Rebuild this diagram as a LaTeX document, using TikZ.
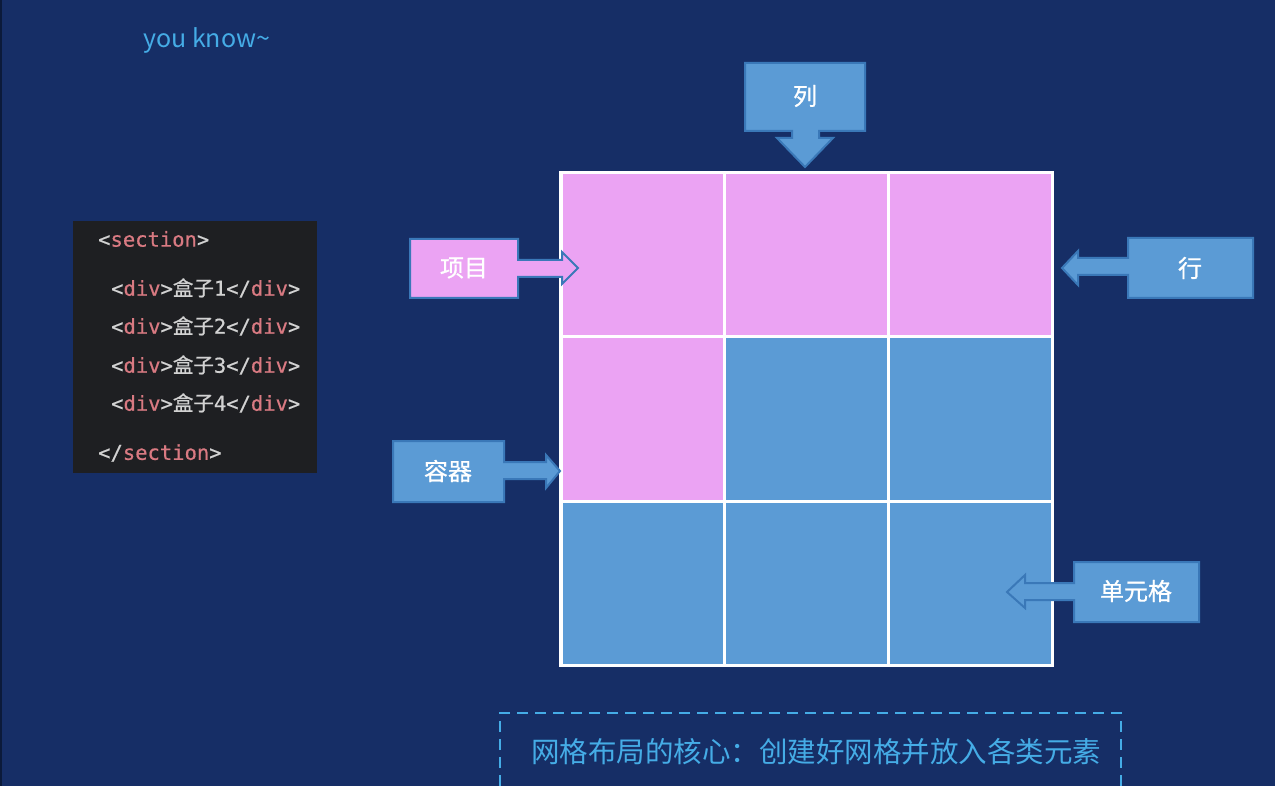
\documentclass[tikz,border=0pt]{standalone}
\usepackage{fontspec}
\newfontfamily\cjk{Noto Sans CJK SC}
\newfontfamily\cjkm[FakeBold=0.8]{Noto Sans CJK SC}
\newfontfamily\codefont[FakeBold=0.6]{DejaVu Sans Mono}
\definecolor{bg}{HTML}{162E66}
\definecolor{edge}{HTML}{0B1A3A}
\definecolor{cellblue}{HTML}{5B9BD5}
\definecolor{cellpink}{HTML}{EBA3F3}
\definecolor{outl}{HTML}{3A78B8}
\definecolor{codebg}{HTML}{1E1F22}
\definecolor{codetag}{HTML}{D97A82}
\definecolor{codetxt}{HTML}{D2D2D2}
\definecolor{lightblue}{HTML}{45ACE6}
\tikzset{
  cellbox/.style={draw=white, line width=3pt, minimum width=164pt, minimum height=164pt, inner sep=0pt},
  callout/.style={draw=outl, line width=2pt, line join=miter},
  calltext/.style={font=\cjkm\fontsize{24}{27}\selectfont, text=white},
  codeline/.style={anchor=west, inner sep=0pt, font=\codefont\fontsize{20.5}{24}\selectfont, text=codetxt},
}
\newcommand{\tg}[1]{\textcolor{codetag}{#1}}
\newcommand{\cj}[1]{{\cjkm #1}}
\begin{document}
\begin{tikzpicture}[x=1pt,y=-1pt]
\useasboundingbox (0,0) rectangle (1275,786);
\fill[bg] (0,0) rectangle (1275,786);
\fill[edge] (0,0) rectangle (2,786);

% subtitle
\node[anchor=west, inner sep=0pt, text=lightblue, font=\cjk\fontsize{25}{28}\selectfont] (sub) at (143,40) {you know\textasciitilde};

% code panel
\node[fill=codebg, minimum width=244pt, minimum height=252pt, inner sep=0pt] (code) at (195,347) {};
\node[codeline] (l0) at (98,239) {<\tg{section}>};
\node[codeline] (l1) at (111,288) {<\tg{div}>\cj{盒子}1</\tg{div}>};
\node[codeline] (l2) at (111,326) {<\tg{div}>\cj{盒子}2</\tg{div}>};
\node[codeline] (l3) at (111,365) {<\tg{div}>\cj{盒子}3</\tg{div}>};
\node[codeline] (l4) at (111,403) {<\tg{div}>\cj{盒子}4</\tg{div}>};
\node[codeline] (l5) at (98,453) {</\tg{section}>};

% grid
\node[cellbox, fill=cellpink] (c11) at (642.5,255) {};
\node[cellbox, fill=cellpink] (c12) at (806,255) {};
\node[cellbox, fill=cellpink] (c13) at (970,255) {};
\node[cellbox, fill=cellpink] (c21) at (642.5,419) {};
\node[cellbox, fill=cellblue] (c22) at (806,419) {};
\node[cellbox, fill=cellblue] (c23) at (970,419) {};
\node[cellbox, fill=cellblue] (c31) at (642.5,583) {};
\node[cellbox, fill=cellblue] (c32) at (806,583) {};
\node[cellbox, fill=cellblue] (c33) at (970,583) {};
\draw[white, line width=3pt] (561,173) rectangle (1052,665);

% callout: column
\draw[callout, fill=cellblue] (745,63) -- (865,63) -- (865,131) -- (819,131) -- (819,138) -- (833,138) -- (805,167) -- (777,138) -- (792,138) -- (792,131) -- (745,131) -- cycle;
\node[calltext] (lie) at (805,96) {列};

% callout: item
\draw[callout, fill=cellpink] (410,239) -- (518,239) -- (518,260) -- (562,260) -- (562,252) -- (578,268) -- (562,284) -- (562,277) -- (518,277) -- (518,298) -- (410,298) -- cycle;
\node[calltext] (xm) at (464,268) {项目};

% callout: container
\draw[callout, fill=cellblue] (393,441) -- (504,441) -- (504,462) -- (546,462) -- (546,455) -- (560,471) -- (546,488) -- (546,479) -- (504,479) -- (504,502) -- (393,502) -- cycle;
\node[calltext] (rq) at (448,471) {容器};

% callout: row
\draw[callout, fill=cellblue] (1253,238) -- (1128,238) -- (1128,258) -- (1078,258) -- (1078,251) -- (1062,268) -- (1078,285) -- (1078,275) -- (1128,275) -- (1128,298) -- (1253,298) -- cycle;
\node[calltext] (hang) at (1190,268) {行};

% callout: cell
\draw[callout, fill=cellblue] (1199,562) -- (1074,562) -- (1074,583) -- (1025,583) -- (1025,575) -- (1007,592) -- (1025,608) -- (1025,600) -- (1074,600) -- (1074,622) -- (1199,622) -- cycle;
\node[calltext] (dyg) at (1136,591) {单元格};

% bottom dashed note
\draw[lightblue, line width=2.5pt, dash pattern=on 11pt off 7pt] (500,786) -- (500,713) -- (1121,713) -- (1121,786);
\node[text=lightblue, font=\cjk\fontsize{28.5}{32}\selectfont, inner sep=0pt] (note) at (816,752) {网格布局的核心：创建好网格并放入各类元素};
\end{tikzpicture}
\end{document}
